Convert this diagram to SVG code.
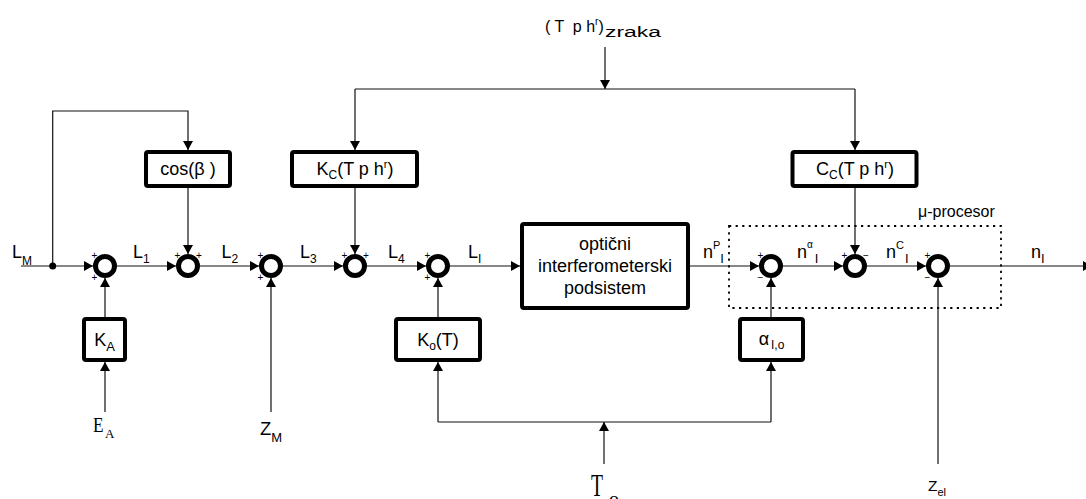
<svg xmlns="http://www.w3.org/2000/svg" width="1086" height="499" viewBox="0 0 1086 499">
<style>
.ln{fill:none;stroke:#111;stroke-width:1.2}
.arr{marker-end:url(#ah)}
.box{fill:#fff;stroke:#000;stroke-width:4}
.sum{fill:#fff;stroke:#000;stroke-width:5}
text{font-family:"Liberation Sans",Arial,sans-serif;fill:#000}
.t{font-size:18px}
.bt{font-size:18px;text-anchor:middle}
.sg{font-size:10px;text-anchor:middle}
.sf{font-family:"Liberation Serif","Times New Roman",serif}
.dot{fill:none;stroke:#000;stroke-width:1.8;stroke-dasharray:2.2 4.4}
</style>
<defs>
<marker id="ah" markerUnits="userSpaceOnUse" markerWidth="9" markerHeight="10" viewBox="0 0 9 10" refX="9" refY="5" orient="auto">
<path d="M0,0 L9,5 L0,10 z" fill="#000"/>
</marker>
</defs>
<rect width="1086" height="499" fill="#fff"/>

<g id="connectors">
<path class="ln arr" d="M21,266 H93"/>
<path class="ln arr" d="M117,266 H176"/>
<path class="ln arr" d="M200,266 H259"/>
<path class="ln arr" d="M283,266 H343"/>
<path class="ln arr" d="M367,266 H426"/>
<path class="ln arr" d="M450,266 H520"/>
<path class="ln arr" d="M690,266 H759"/>
<path class="ln arr" d="M783,266 H843"/>
<path class="ln arr" d="M867,266 H926"/>
<path class="ln arr" d="M950,266 H1092"/>
<path class="ln arr" d="M52.7,266 V111 H188 V150"/>
<path class="ln arr" d="M188,188 V254"/>
<path class="ln arr" d="M605,47 V89"/>
<path class="ln" d="M355,89 H855"/>
<path class="ln arr" d="M355,89 V150"/>
<path class="ln arr" d="M855,89 V150"/>
<path class="ln arr" d="M355,188 V254"/>
<path class="ln arr" d="M855,188 V254"/>
<path class="ln arr" d="M105,317 V278"/>
<path class="ln arr" d="M105,412 V362"/>
<path class="ln arr" d="M271,412 V278"/>
<path class="ln arr" d="M438,317 V278"/>
<path class="ln arr" d="M604,464 V422"/>
<path class="ln" d="M438,422 H771"/>
<path class="ln arr" d="M438,422 V362"/>
<path class="ln arr" d="M771,422 V362"/>
<path class="ln arr" d="M771,317 V278"/>
<path class="ln arr" d="M938,464 V278"/>
<circle cx="52.7" cy="266" r="3.5" fill="#000"/>
</g>

<g id="microprocessor">
<rect class="dot" x="729" y="226" width="272" height="82"/>
<text x="918" y="217" font-size="16">μ-procesor</text>
</g>

<g id="sum1"><circle class="sum" cx="105" cy="266" r="9.5"/><text class="sg" x="94.5" y="258.5">+</text><text class="sg" x="94.5" y="281">+</text></g>
<g id="sum2"><circle class="sum" cx="188" cy="266" r="9.5"/><text class="sg" x="177.5" y="258.5">+</text><text class="sg" x="199" y="258.5">+</text></g>
<g id="sum3"><circle class="sum" cx="271" cy="266" r="9.5"/><text class="sg" x="260.5" y="258.5">+</text><text class="sg" x="260.5" y="281">+</text></g>
<g id="sum4"><circle class="sum" cx="355" cy="266" r="9.5"/><text class="sg" x="344.5" y="258.5">+</text><text class="sg" x="366" y="258.5">+</text></g>
<g id="sum5"><circle class="sum" cx="438" cy="266" r="9.5"/><text class="sg" x="427.5" y="258.5">+</text><text class="sg" x="427.5" y="281">+</text></g>
<g id="sum6"><circle class="sum" cx="771" cy="266" r="9.5"/><text class="sg" x="760.5" y="258.5">+</text><text class="sg" x="760.5" y="281">−</text></g>
<g id="sum7"><circle class="sum" cx="855" cy="266" r="9.5"/><text class="sg" x="844.5" y="258.5">+</text><text class="sg" x="866" y="258.5">−</text></g>
<g id="sum8"><circle class="sum" cx="938" cy="266" r="9.5"/><text class="sg" x="927.5" y="258.5">+</text><text class="sg" x="927.5" y="281">−</text></g>

<g id="cos"><rect class="box" x="146" y="152" width="84" height="34" rx="2"/><text class="bt" x="188" y="175">cos(β )</text></g>
<g id="KC"><rect class="box" x="292" y="152" width="125" height="34" rx="2"/><text class="bt" x="355" y="175">K<tspan font-size="12" dy="4">C</tspan><tspan dy="-4">(T p h</tspan><tspan font-size="11" dy="-7">r</tspan><tspan dy="7">)</tspan></text></g>
<g id="CC"><rect class="box" x="792.5" y="152" width="124" height="34" rx="2"/><text class="bt" x="855" y="175">C<tspan font-size="12" dy="4">C</tspan><tspan dy="-4">(T p h</tspan><tspan font-size="11" dy="-7">r</tspan><tspan dy="7">)</tspan></text></g>
<g id="KA"><rect class="box" x="84" y="319" width="41" height="41" rx="2"/><text class="bt" x="104.5" y="346">K<tspan font-size="13" dy="5">A</tspan></text></g>
<g id="Ko"><rect class="box" x="396" y="319" width="84" height="41" rx="2"/><text class="bt" x="438" y="346">K<tspan font-size="12" dy="4">o</tspan><tspan dy="-4">(T)</tspan></text></g>
<g id="alpha"><rect class="box" x="740" y="319" width="63" height="41" rx="2"/><text class="bt" x="771.5" y="345" font-size="16">α<tspan font-size="12" dy="4" dx="2">I,o</tspan></text></g>
<g id="optical"><rect class="box" x="522" y="224" width="166" height="84" rx="2"/>
<text class="bt" x="605" y="250" font-size="19">optični</text>
<text class="bt" x="605" y="272" font-size="19">interferometerski</text>
<text class="bt" x="605" y="294" font-size="19">podsistem</text></g>

<g id="labels">
<text class="t" x="12" y="258" font-size="17">L<tspan font-size="12" dy="7">M</tspan></text>
<text class="t" x="133" y="258" font-size="17">L<tspan font-size="12" dy="5">1</tspan></text>
<text class="t" x="221.5" y="258" font-size="17">L<tspan font-size="12" dy="5">2</tspan></text>
<text class="t" x="300" y="258" font-size="17">L<tspan font-size="12" dy="5">3</tspan></text>
<text class="t" x="388" y="258" font-size="17">L<tspan font-size="12" dy="5">4</tspan></text>
<text class="t" x="468" y="258" font-size="17">L<tspan font-size="12" dy="5">I</tspan></text>
<text class="t" x="703" y="258">n<tspan font-size="11" dy="-9">P</tspan><tspan font-size="13" dy="14">I</tspan></text>
<text class="t" x="797" y="258">n<tspan font-size="10" dy="-10">α</tspan><tspan font-size="13" dy="15" dx="2">I</tspan></text>
<text class="t" x="886" y="258">n<tspan font-size="11" dy="-9">C</tspan><tspan font-size="13" dy="14" dx="1">I</tspan></text>
<text class="t" x="1031" y="258">n<tspan font-size="13" dy="5">I</tspan></text>
<text x="545" y="32" font-size="16" style="white-space:pre">( T  p h<tspan font-size="10" dy="-7">r</tspan><tspan dy="7">)</tspan></text>
<text x="605" y="37" font-size="14" textLength="56" lengthAdjust="spacingAndGlyphs">zraka</text>
<text class="sf" x="93" y="432" font-size="21" textLength="10.5" lengthAdjust="spacingAndGlyphs">E</text>
<text class="sf" x="105" y="438" font-size="13">A</text>
<text x="260" y="435" font-size="18.5">Z<tspan font-size="13" dy="7">M</tspan></text>
<text class="sf" x="591" y="496" font-size="32" textLength="12" lengthAdjust="spacingAndGlyphs">T</text>
<text class="sf" x="609" y="506" font-size="20">o</text>
<text x="928" y="491" font-size="15.5">Z<tspan font-size="11" dy="5">el</tspan></text>
</g>
</svg>
